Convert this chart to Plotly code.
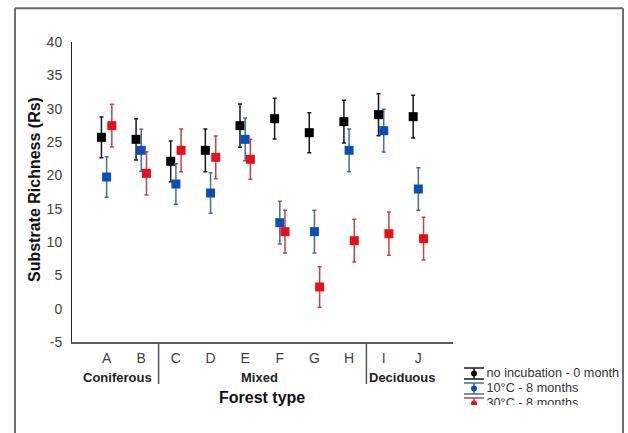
import plotly.graph_objects as go

# The page body margin is removed by a small post script, so reference pixel
# positions map directly onto the 628x433 figure.
OFF = 0
W, H = 628 - OFF, 433 - OFF

categories = ["A", "B", "C", "D", "E", "F", "G", "H", "I", "J"]
groups = ["Coniferous", "Mixed", "Deciduous"]

no_incub = [25.7, 25.4, 22.1, 23.75, 27.45, 28.5, 26.4, 28.05, 29.1, 28.8]
no_incub_err = [3.05, 3.1, 3.05, 3.2, 3.25, 3.05, 3.0, 3.2, 3.15, 3.2]
c10 = [19.75, 23.75, 18.7, 17.35, 25.4, 12.9, 11.55, 23.75, 26.7, 17.95]
c10_err = [3.05, 3.15, 3.05, 3.05, 3.2, 3.2, 3.2, 3.2, 3.2, 3.2]
c30 = [27.45, 20.3, 23.75, 22.7, 22.4, 11.55, 3.25, 10.2, 11.25, 10.5]
c30_err = [3.2, 3.25, 3.2, 3.2, 3.0, 3.2, 3.05, 3.2, 3.25, 3.2]

y_ticks = [-5, 0, 5, 10, 15, 20, 25, 30, 35, 40]
y_ticktext = ["-5", "0", "5", "10", "15", "20", "25", "30", "35", "40"]

series_names = ["no incubation - 0 month", "10°C - 8 months", "30°C - 8 months"]

FONT = "Liberation Sans, Arial, sans-serif"


def px_x(p):
    return (p - OFF) / W


def px_y(p):
    return 1 - (p - OFF) / H


pos = list(range(1, len(categories) + 1))

fig = go.Figure()

specs = [
    (no_incub, no_incub_err, -0.15, "#000000", "#1a1a1a"),
    (c10, c10_err, 0.0, "#0b4fb5", "#46708f"),
    (c30, c30_err, 0.15, "#e3121b", "#b9474a"),
]
for (vals, errs, off, mc, ec), name in zip(specs, series_names):
    fig.add_trace(go.Scatter(
        x=[p + off for p in pos], y=vals, mode="markers", name=name,
        marker=dict(symbol="square", size=9, color=mc),
        error_y=dict(type="data", array=errs, visible=True, color=ec,
                     thickness=1.5, width=2),
        showlegend=False, xaxis="x", yaxis="y",
    ))

# custom legend in a small clipped axis (reference pixel coordinates)
leg_y = [373.5, 388.5, 403.5]
leg_mc = ["#000000", "#0b4fb5", "#e3121b"]
leg_ec = ["#1a1a1a", "#46708f", "#b9474a"]
for yy, mc, ec, name in zip(leg_y, leg_mc, leg_ec, series_names):
    fig.add_trace(go.Scatter(
        x=[474], y=[yy], mode="markers", marker=dict(symbol="circle", size=6, color=mc),
        error_y=dict(type="data", array=[5.5], visible=True, color=ec, thickness=1.5, width=10),
        showlegend=False, xaxis="x2", yaxis="y2", cliponaxis=True,
    ))
    fig.add_trace(go.Scatter(
        x=[486.5], y=[yy], mode="text", text=[name], textposition="middle right",
        textfont=dict(family=FONT, size=12.7, color="#333333"),
        showlegend=False, xaxis="x2", yaxis="y2", cliponaxis=True,
    ))

shapes = []
# outer frame (left, top, right)
for x0, y0, x1, y1 in [(15, 8.3, 15, 440), (15, 8.3, 623, 8.3), (623, 8.3, 623, 440)]:
    shapes.append(dict(type="line", xref="paper", yref="paper",
                       x0=px_x(x0), y0=px_y(y0), x1=px_x(x1), y1=px_y(y1),
                       line=dict(color="#6e6e6e", width=2)))
# group separators
for xs in [2.5, 8.5]:
    shapes.append(dict(type="line", xref="x", yref="paper",
                       x0=xs, x1=xs, y0=px_y(342), y1=px_y(384),
                       line=dict(color="#555555", width=1.5)))

annotations = []
for g, gx in zip(groups, [1.32, 5.4, 9.54]):
    annotations.append(dict(text="<b>%s</b>" % g, x=gx, xref="x", y=px_y(377.5), yref="paper",
                            showarrow=False, xanchor="center", yanchor="middle",
                            font=dict(family=FONT, size=13, color="#222222")))
annotations.append(dict(text="<b>Forest type</b>", x=px_x(261.5), xref="paper", y=px_y(397),
                        yref="paper", showarrow=False, xanchor="center", yanchor="middle",
                        font=dict(family=FONT, size=16, color="#111111")))
annotations.append(dict(text="<b>Substrate Richness (Rs)</b>", x=px_x(34), xref="paper",
                        y=px_y(190), yref="paper", showarrow=False, textangle=-90,
                        xanchor="center", yanchor="middle",
                        font=dict(family=FONT, size=16, color="#111111")))

fig.update_layout(
    width=W, height=H,
    margin=dict(l=0, r=0, t=0, b=0, autoexpand=False),
    paper_bgcolor="white", plot_bgcolor="white",
    showlegend=False,
    xaxis=dict(domain=[px_x(72), px_x(453)], range=[0, 11], anchor="y",
               tickvals=pos, ticktext=categories, showgrid=False, zeroline=False,
               showline=True, linecolor="#5a5a5a", linewidth=2, ticks="",
               tickfont=dict(family=FONT, size=14, color="#404040"),
               ticklabelstandoff=2, fixedrange=True),
    yaxis=dict(domain=[px_y(342), px_y(42)], range=[-5, 40], anchor="x",
               tickvals=y_ticks, ticktext=y_ticktext,
               showgrid=False, zeroline=False, showline=True, linecolor="#222222",
               linewidth=1, ticks="", tickfont=dict(family=FONT, size=14, color="#404040"),
               ticklabelstandoff=6, fixedrange=True),
    xaxis2=dict(domain=[px_x(455), px_x(628)], range=[455, 628], anchor="y2", visible=False,
                fixedrange=True),
    yaxis2=dict(domain=[px_y(405), px_y(360)], range=[405, 360], anchor="x2", visible=False,
                fixedrange=True),
    shapes=shapes,
    annotations=annotations,
)

fig.write_html(
    "out.html",
    config={"displayModeBar": False},
    post_script="document.body.style.margin='0px';document.body.style.overflow='hidden';",
)
